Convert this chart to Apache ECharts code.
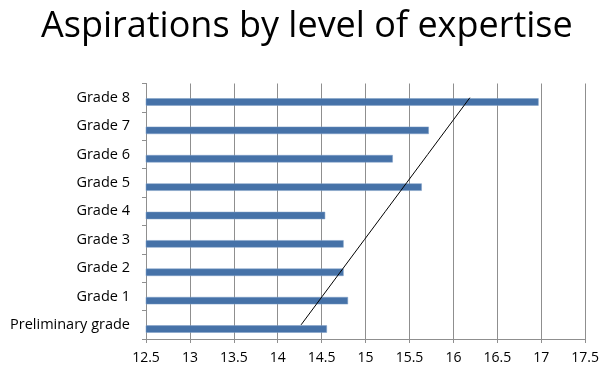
<!DOCTYPE html>
<html>
<head>
<meta charset="utf-8">
<script src="https://cdn.jsdelivr.net/npm/echarts@6/dist/echarts.min.js"></script>
<style>
  html, body { margin: 0; padding: 0; background: #fff; }
  #chart { width: 602px; height: 367px; }
</style>
</head>
<body>
<div id="chart"></div>
<script>
// Levels of expertise, bottom to top
const categories = ['Preliminary grade', 'Grade 1', 'Grade 2', 'Grade 3', 'Grade 4',
                    'Grade 5', 'Grade 6', 'Grade 7', 'Grade 8'];
// Aspiration score per level
const aspirations = [14.56, 14.80, 14.75, 14.75, 14.54, 15.64, 15.31, 15.72, 16.97];
// Value axis ticks
const xTicks = [12.5, 13, 13.5, 14, 14.5, 15, 15.5, 16, 16.5, 17, 17.5];

// Least-squares linear trend of the aspiration scores over the levels
function linearTrend(values) {
  const n = values.length;
  const mx = (n - 1) / 2;
  const my = values.reduce((a, b) => a + b, 0) / n;
  let sxy = 0, sxx = 0;
  values.forEach((v, i) => { sxy += (i - mx) * (v - my); sxx += (i - mx) * (i - mx); });
  const slope = sxy / sxx;
  return values.map((_, i) => my + slope * (i - mx));
}
const trend = linearTrend(aspirations);

const chart = echarts.init(document.getElementById('chart'), null, { renderer: 'canvas' });
const gridColor = '#8f8f8f';
const font = '"Open Sans", "Noto Sans", sans-serif';

chart.setOption({
  animation: false,
  title: {
    text: 'Aspirations by level of expertise',
    left: 36,
    top: 4,
    textStyle: { fontFamily: font, fontSize: 36, fontWeight: 'normal', color: '#000' }
  },
  grid: { left: 146, right: 15.5, top: 83.5, bottom: 28, containLabel: false },
  xAxis: {
    type: 'value',
    min: xTicks[0],
    max: xTicks[xTicks.length - 1],
    interval: 0.5,
    axisLine: { show: true, lineStyle: { color: gridColor, width: 1 } },
    axisTick: { show: true, length: 4, lineStyle: { color: gridColor } },
    splitLine: { show: true, lineStyle: { color: gridColor, width: 1 } },
    axisLabel: { fontFamily: font, fontSize: 14, color: '#000', margin: 12 }
  },
  yAxis: {
    type: 'category',
    data: categories,
    axisLine: { show: true, lineStyle: { color: gridColor, width: 1 } },
    axisTick: { show: true, length: 4, lineStyle: { color: gridColor } },
    axisLabel: { fontFamily: font, fontSize: 14.5, color: '#000', margin: 16 }
  },
  series: [
    {
      name: 'Spacer',
      type: 'bar',
      data: categories.map(() => '-'),
      barWidth: 7.4,
      barGap: '15%'
    },
    {
      name: 'Aspirations',
      type: 'bar',
      data: aspirations,
      barWidth: 7.4,
      itemStyle: { color: '#4672a8', borderColor: '#7f9fc6', borderWidth: 0.5 }
    },
    {
      name: 'Linear trend',
      type: 'line',
      data: trend,
      symbol: 'none',
      z: 5,
      lineStyle: { color: '#000', width: 1 }
    }
  ]
});
</script>
</body>
</html>
